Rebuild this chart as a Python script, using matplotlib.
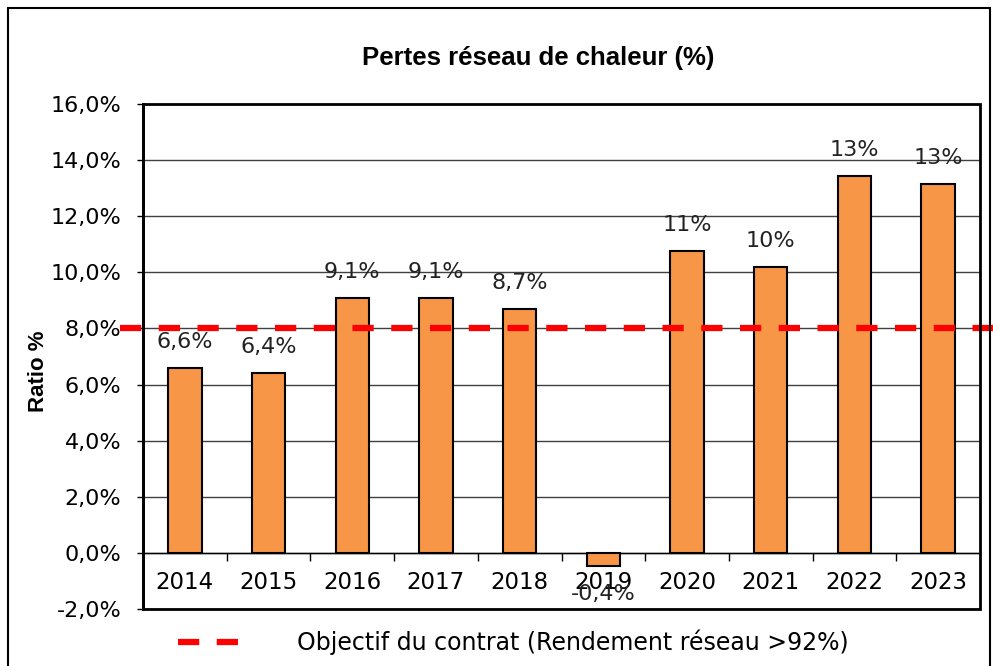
import matplotlib.pyplot as plt
from matplotlib.patches import Rectangle
from matplotlib.lines import Line2D
import numpy as np

years = ['2014', '2015', '2016', '2017', '2018', '2019', '2020', '2021', '2022', '2023']
pertes = [6.6, 6.4, 9.07, 9.08, 8.68, -0.45, 10.75, 10.18, 13.43, 13.14]
labels = ['6,6%', '6,4%', '9,1%', '9,1%', '8,7%', '-0,4%', '11%', '10%', '13%', '13%']
objectif = 8.0
yticks = [-2, 0, 2, 4, 6, 8, 10, 12, 14, 16]

fig = plt.figure(figsize=(9.93, 6.66), dpi=100)
# cadre autour du graphique
fig.patches.append(Rectangle((8 / 993, -0.1), 982 / 993, 1.1 - 8 / 666,
                             transform=fig.transFigure, fill=False,
                             edgecolor='black', linewidth=1.5))

ax = fig.add_axes([143 / 993, 1 - 609 / 666, 837 / 993, 505 / 666])
x = np.arange(len(years))
ax.bar(x, pertes, width=0.4, color='#F79646', edgecolor='black', linewidth=1.5, zorder=3)

for xi, v, lab in zip(x, pertes, labels):
    off = 26 if v >= 0 else -28
    ax.annotate(lab, (xi, v), xytext=(0, off), textcoords='offset pixels',
                ha='center', va='center', fontsize=16, color='#222222', zorder=2)

dash = (3.4, 2.8)
ax.axhline(objectif, xmin=-0.028, xmax=1.03, clip_on=False, color='red',
           linewidth=4.5, dashes=dash, zorder=5)

ax.set_xlim(-0.5, len(years) - 0.5)
ax.set_ylim(-2, 16)
ax.set_yticks(yticks)
ax.set_yticklabels([('%.1f' % t).replace('.', ',') + '%' for t in yticks], fontsize=16)
ax.yaxis.grid(True, color='#404040', linewidth=1, zorder=0)
ax.tick_params(axis='y', length=4.5, width=1, pad=11)

ax.spines['bottom'].set_position(('data', 0))
ax.spines['bottom'].set_linewidth(1)
ax.spines['top'].set_visible(False)
ax.spines['right'].set_visible(False)
ax.spines['left'].set_linewidth(2)
ax.add_patch(Rectangle((0, 0), 1, 1, transform=ax.transAxes, fill=False,
                       edgecolor='black', linewidth=2, zorder=6, clip_on=False))
ax.set_xticks(x)
ax.set_xticklabels(years, fontsize=16.5)
ax.set_xticks(np.arange(0.5, len(years) - 1, 1), minor=True)
ax.tick_params(axis='x', which='major', length=0, pad=13)
ax.tick_params(axis='x', which='minor', length=6, width=1, direction='out')

ax.set_ylabel('Ratio %', fontsize=16, fontweight='bold', family='Liberation Sans')
ax.yaxis.set_label_coords(-0.112, 0.47)
fig.text(538 / 993, 1 - 58 / 666, 'Pertes réseau de chaleur (%)', ha='center', va='center',
         fontsize=18.5, fontweight='bold', family='Liberation Sans')

fig.lines.append(Line2D([178 / 993, 243 / 993], [1 - 642 / 666, 1 - 642 / 666],
                        transform=fig.transFigure, color='red', linewidth=4.5, dashes=dash))
fig.text(297 / 993, 1 - 642 / 666, 'Objectif du contrat (Rendement réseau >92%)',
         ha='left', va='center', fontsize=17)

fig.savefig('out.png', dpi=100)
